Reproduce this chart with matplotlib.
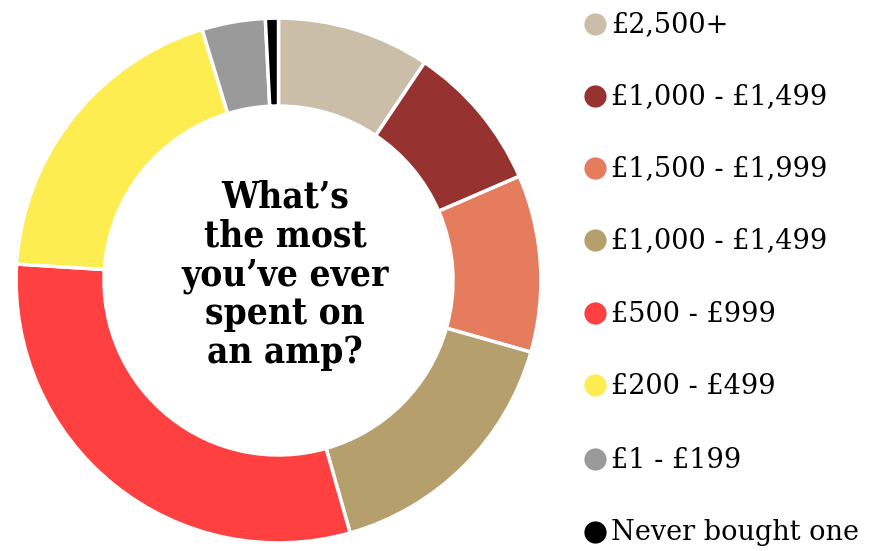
import matplotlib
matplotlib.use("Agg")
import matplotlib.pyplot as plt
from matplotlib.lines import Line2D

# Survey: highest amount ever spent on an amp (share of respondents, %)
categories = ["£2,500+", "£1,000 - £1,499", "£1,500 - £1,999", "£1,000 - £1,499",
              "£500 - £999", "£200 - £499", "£1 - £199", "Never bought one"]
shares = [9.4, 9.1, 10.9, 16.2, 30.4, 19.3, 3.9, 0.8]
colors = ["#CBBEA8", "#963330", "#E57C5E", "#B59F6C",
          "#FF4040", "#FEED50", "#9A9A9A", "#000000"]
title = "What’s\nthe most\nyou’ve ever\nspent on\nan amp?"

W, H = 880, 551
fig = plt.figure(figsize=(W / 100, H / 100), dpi=100)
fig.patch.set_facecolor("white")

# Donut axes
cx, cy, R = 278.5, 280.5, 265
ax = fig.add_axes([(cx - R) / W, (H - cy - R) / H, 2 * R / W, 2 * R / H])
ax.pie(shares, colors=colors, startangle=90, counterclock=False, radius=1.0,
       wedgeprops=dict(width=0.335, edgecolor="white", linewidth=2.5))
ax.set_xlim(-1.01, 1.01)
ax.set_ylim(-1.01, 1.01)
ax.set_aspect("equal")
ax.axis("off")
ax.text(0.025, 0.02, title, ha="center", va="center", fontsize=26.5,
        fontweight="bold", family="DejaVu Serif", fontstretch="condensed",
        linespacing=1.1, color="black")

# Legend column
lax = fig.add_axes([0, 0, 1, 1])
lax.set_xlim(0, W)
lax.set_ylim(H, 0)
lax.axis("off")
row_y = [24, 96, 168, 240, 313, 385, 459, 532]
for y, c, lab in zip(row_y, colors, categories):
    lax.add_line(Line2D([595], [y], marker="o", markersize=16, color=c,
                        markeredgewidth=0, linestyle="none"))
    lax.text(611, y + 1, lab, ha="left", va="center", fontsize=19.5,
             family="DejaVu Serif", color="black")

fig.savefig("out.png", dpi=100, facecolor="white")
